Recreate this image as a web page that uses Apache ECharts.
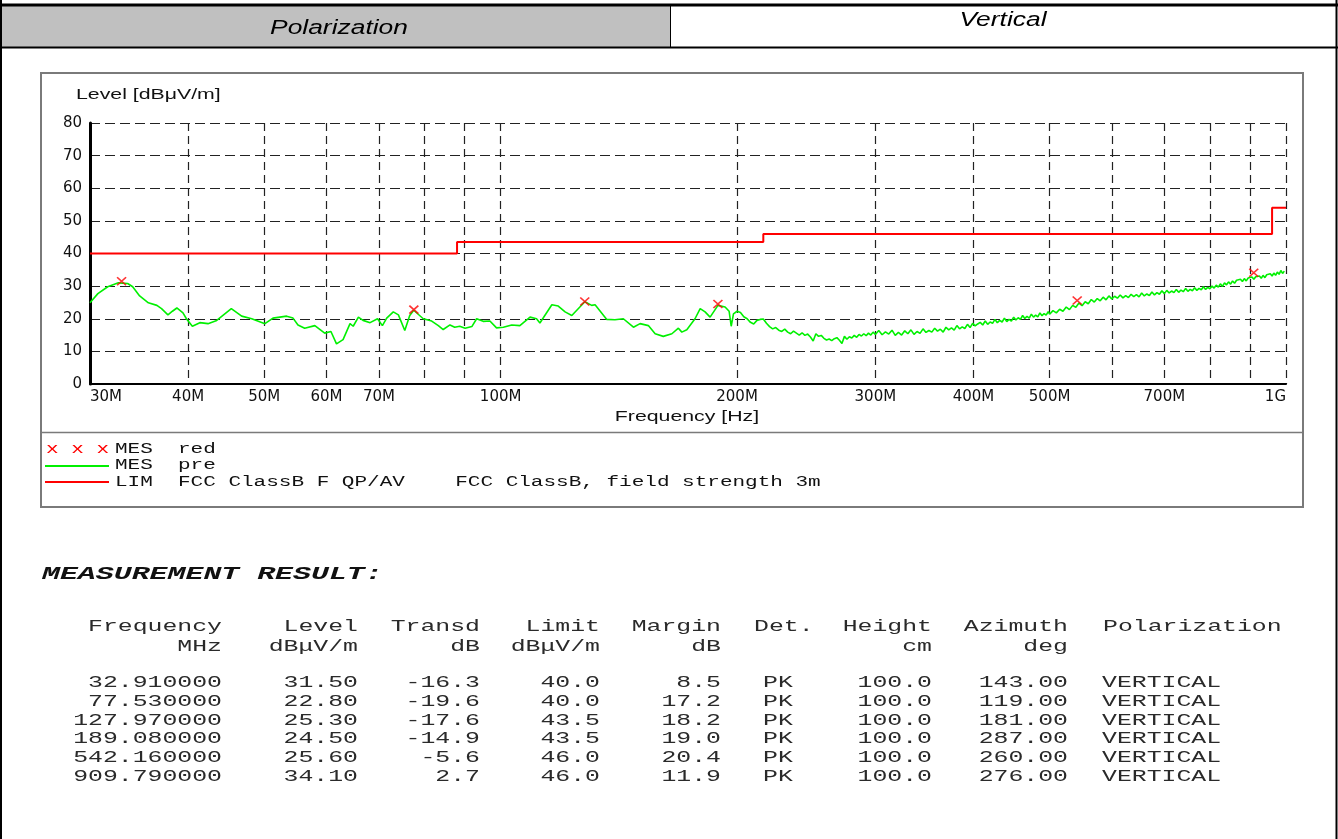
<!DOCTYPE html>
<html>
<head>
<meta charset="utf-8">
<title>Radiated emission - Vertical</title>
<script src="https://cdn.jsdelivr.net/npm/echarts@6/dist/echarts.min.js"></script>
<style>
  html, body { margin: 0; padding: 0; background: #fff; }
  #chart { width: 1338px; height: 839px; }
</style>
</head>
<body>
<div id="chart"></div>
<script>
// ---- Frequency axis (MHz) ----
const labelFreqs = [30, 40, 50, 60, 70, 100, 200, 300, 400, 500, 700, 1000];
const gridFreqs = [40, 50, 60, 70, 80, 90, 100, 200, 300, 400, 500, 600, 700, 800, 900, 1000];

// ---- FCC Class B limit, 3 m (MHz, dBuV/m) ----
const limitFreq = [30, 88, 88, 216, 216, 960, 960, 1000];
const limitLevel = [40, 40, 43.5, 43.5, 46, 46, 54, 54];

// ---- Pre-scan sweep (MHz, dBuV/m) ----
const preScanLow = [
  [30.0, 24.9], [30.7, 27.7], [31.6, 29.8], [32.6, 31.0], [33.5, 30.8], [34.0, 29.8], [34.7, 27.0],
  [35.6, 24.9], [36.5, 24.1], [37.0, 23.1], [37.7, 21.2], [38.2, 22.3], [38.7, 23.3], [39.4, 21.8],
  [39.8, 20.0], [40.5, 17.7], [41.4, 18.8], [42.4, 18.5], [43.5, 19.5], [45.4, 23.1], [46.8, 20.8],
  [48.2, 20.0], [50.1, 18.5], [51.3, 20.2], [53.4, 20.8], [54.4, 20.2], [55.2, 18.1], [56.3, 17.1],
  [58.0, 17.9], [59.7, 15.6], [60.8, 16.1], [61.8, 12.3], [63.0, 13.6], [64.3, 18.5], [64.9, 17.7],
  [65.9, 20.5], [66.8, 19.5], [68.2, 18.8], [69.7, 20.0], [70.7, 17.9], [71.6, 20.2], [73.0, 22.1],
  [74.1, 21.2], [75.5, 16.4], [76.6, 21.0], [77.5, 22.6], [79.7, 20.0], [81.7, 19.3], [83.3, 17.9],
  [84.5, 16.7], [86.2, 18.1], [87.4, 17.4], [88.7, 17.7], [90.1, 17.1], [91.9, 17.6], [93.2, 20.0],
  [95.0, 19.2], [96.9, 19.3], [98.8, 17.2], [100.8, 17.4], [103.3, 18.1], [105.8, 17.9], [109.0, 20.5],
  [111.1, 20.0], [112.2, 18.7], [116.2, 24.3], [118.4, 23.9], [120.8, 22.1], [123.2, 21.0], [128.0, 25.2],
  [130.6, 24.1], [131.9, 24.3], [136.5, 19.8], [139.8, 19.7], [143.3, 20.0], [147.6, 17.4], [150.5, 18.5],
  [154.2, 17.9], [157.3, 15.4], [161.1, 14.6], [165.2, 15.4], [168.4, 17.1], [170.1, 15.9], [172.6, 16.6],
  [176.8, 20.0], [179.5, 23.1], [182.1, 22.1], [184.8, 20.5], [189.1, 24.1], [193.1, 23.6], [195.4, 22.3],
  [196.6, 17.7], [197.9, 21.5]
];
const preScanMid = [
  [200, 22.3], [202, 21.9], [204, 20.6], [206, 20.0], [208, 18.9], [210, 18.4], [212, 19.5], [214, 19.8],
  [216, 19.9], [218, 18.6], [220, 17.6], [222, 16.9], [224, 17.3], [226, 16.5], [228, 16.1], [230, 16.8],
  [232, 15.9], [234, 15.4], [236, 16.2], [238, 15.6], [240, 15.0], [242, 15.7], [244, 14.9], [246, 15.3],
  [248, 14.4], [250, 13.2], [252, 15.4], [254, 14.6], [256, 14.9], [258, 14.0], [260, 13.5], [262, 13.8],
  [264, 13.3], [266, 13.9], [268, 14.2], [270, 13.4], [272, 12.4], [274, 14.6], [276, 13.7], [278, 14.5],
  [280, 14.1], [282, 14.9], [284, 14.3], [286, 15.2], [288, 14.7], [290, 15.4], [292, 14.8], [294, 15.6],
  [296, 15.0], [298, 15.9], [300, 15.2],
  [303, 16.4], [306, 15.1], [309, 16.0], [312, 15.3], [315, 16.5], [318, 14.9], [321, 15.8], [324, 15.0],
  [327, 16.3], [330, 15.4], [333, 16.6], [336, 15.2], [339, 16.1], [342, 15.5], [345, 16.9], [348, 15.8],
  [351, 16.4], [354, 15.9], [357, 17.1], [360, 16.2], [363, 16.8], [366, 15.9], [369, 17.4], [372, 16.6],
  [375, 17.2], [378, 16.5], [381, 17.9], [384, 16.9], [387, 17.5], [390, 17.0], [393, 18.3], [396, 17.3],
  [399, 18.6], [402, 17.8], [405, 18.4], [408, 18.9], [411, 18.1], [414, 19.3], [417, 18.3], [420, 19.0],
  [423, 18.6], [426, 19.8], [429, 18.8], [432, 19.5], [435, 19.0], [438, 20.2], [441, 19.1], [444, 19.8],
  [447, 19.3], [450, 20.5], [453, 19.6], [456, 20.3], [459, 19.8], [462, 21.0], [465, 20.1], [468, 20.7],
  [471, 20.2], [474, 21.4], [477, 20.5], [480, 21.1], [483, 20.6], [486, 21.8], [489, 20.9], [492, 21.6],
  [495, 21.1], [498, 22.2]
];
const preScanHigh = [
  [500, 21.4], [505, 22.5], [510, 21.8], [515, 22.9], [520, 22.3], [525, 23.6], [530, 22.8], [535, 24.1],
  [540, 23.5], [545, 24.8], [550, 24.0], [555, 25.2], [560, 24.6], [565, 25.9], [570, 25.1], [575, 26.2],
  [580, 25.5], [585, 26.6], [590, 25.8], [595, 27.0], [600, 26.1], [605, 26.9], [610, 26.3], [615, 27.3],
  [620, 26.4], [625, 27.1], [630, 26.5], [635, 27.5], [640, 26.8], [645, 27.4], [650, 26.7], [655, 27.9],
  [660, 27.0], [665, 27.6], [670, 27.1], [675, 28.2], [680, 27.3], [685, 28.0], [690, 27.5], [695, 28.6],
  [700, 27.7], [705, 28.7], [710, 27.9], [715, 28.5], [720, 28.0], [725, 29.0], [730, 28.1], [735, 28.8],
  [740, 28.3], [745, 29.3], [750, 28.4], [755, 29.0], [760, 28.6], [765, 29.5], [770, 28.7], [775, 29.3],
  [780, 28.9], [785, 29.8], [790, 29.0], [795, 29.6], [800, 29.2], [805, 30.0], [810, 29.4], [815, 30.3],
  [820, 29.7], [825, 30.7], [830, 29.9], [835, 31.0], [840, 30.4], [845, 31.3], [850, 30.6], [855, 31.6],
  [860, 30.9], [865, 31.8], [870, 31.2], [875, 32.1], [880, 31.4], [885, 32.3], [890, 31.6], [895, 32.5],
  [900, 31.9], [905, 32.8], [910, 32.1], [915, 32.9], [920, 32.3], [925, 33.1], [930, 32.4], [935, 33.3],
  [940, 32.6], [945, 33.5], [950, 32.9], [955, 33.8], [960, 33.1], [965, 34.0], [970, 33.3], [975, 34.3],
  [980, 33.6], [985, 34.8], [990, 33.9], [995, 34.6]
];

// ---- Final measurement results ----
const measFreq = [32.91, 77.53, 127.97, 189.08, 542.16, 909.79];
const measLevel = [31.5, 22.8, 25.3, 24.5, 25.6, 34.1];
const measTransd = [-16.3, -19.6, -17.6, -14.9, -5.6, 2.7];
const measLimit = [40.0, 40.0, 43.5, 43.5, 46.0, 46.0];
const measMargin = [8.5, 17.2, 18.2, 19.0, 20.4, 11.9];
const measDet = ['PK', 'PK', 'PK', 'PK', 'PK', 'PK'];
const measHeight = [100.0, 100.0, 100.0, 100.0, 100.0, 100.0];
const measAzimuth = [143.0, 119.0, 181.0, 287.0, 260.0, 276.0];
const measPol = ['VERTICAL', 'VERTICAL', 'VERTICAL', 'VERTICAL', 'VERTICAL', 'VERTICAL'];

// ---- Build the chart ----
const lg = Math.log10;
const preScan = preScanLow.concat(preScanMid, preScanHigh);

const SANS = '"Liberation Sans", Arial, sans-serif';
const MONO = '"Liberation Mono", "Courier New", monospace';

function txt(text, x, y, font, align, fill, sx) {
  return {
    type: 'text', x: x, y: y, scaleX: sx || 1, silent: true,
    style: { text: text, font: font, fill: fill || '#111', align: align || 'left', verticalAlign: 'middle' }
  };
}
function line(x1, y1, x2, y2, stroke, w) {
  return { type: 'line', silent: true, shape: { x1: x1, y1: y1, x2: x2, y2: y2 }, style: { stroke: stroke, lineWidth: w } };
}

const graphics = [];
// report header row
graphics.push({ type: 'rect', silent: true, shape: { x: 2, y: 6, width: 668, height: 41 }, style: { fill: '#c0c0c0' } });
graphics.push(line(0, 5, 1338, 5, '#000', 3));
graphics.push(line(0, 47.5, 1338, 47.5, '#000', 2));
graphics.push(line(670.5, 6, 670.5, 47, '#000', 1));
graphics.push(line(1, 0, 1, 839, '#000', 2));
graphics.push(line(1336.5, 0, 1336.5, 839, '#000', 2));
graphics.push(txt('Polarization', 339, 28, 'italic 20px ' + SANS, 'center', '#000', 1.32));
graphics.push(txt('Vertical', 1003, 20, 'italic 20px ' + SANS, 'center', '#000', 1.32));

// chart frame and legend box
graphics.push({ type: 'rect', silent: true, shape: { x: 41, y: 73, width: 1262, height: 434 }, style: { fill: 'none', stroke: '#7a7a7a', lineWidth: 2 } });
graphics.push(line(41, 432.5, 1303, 432.5, '#7a7a7a', 1.5));
graphics.push(txt('Level [dB\u03bcV/m]', 76, 95, '14px ' + SANS, 'left', '#111', 1.52));
graphics.push(txt('Frequency [Hz]', 687, 417, '14px ' + SANS, 'center', '#111', 1.52));

// legend entries
graphics.push(txt('x x x', 46, 449, '14px ' + MONO, 'left', '#ff0000', 1.5));
graphics.push(txt('MES  red', 115, 449, '14px ' + MONO, 'left', '#111', 1.5));
graphics.push(line(45, 466, 109, 466, '#00f000', 2));
graphics.push(txt('MES  pre', 115, 465, '14px ' + MONO, 'left', '#111', 1.5));
graphics.push(line(45, 482, 109, 482, '#ff0000', 2));
graphics.push(txt('LIM  FCC ClassB F QP/AV    FCC ClassB, field strength 3m', 115, 482, '14px ' + MONO, 'left', '#111', 1.5));

// measurement result listing
graphics.push(txt('MEASUREMENT RESULT:', 42, 574, 'italic bold 18px ' + MONO, 'left', '#111', 1.66));
const tableCols = [
  { head: 'Frequency', unit: 'MHz', x: 222, align: 'right', cell: i => measFreq[i].toFixed(6) },
  { head: 'Level', unit: 'dB\u03bcV/m', x: 358, align: 'right', cell: i => measLevel[i].toFixed(2) },
  { head: 'Transd', unit: 'dB', x: 480, align: 'right', cell: i => measTransd[i].toFixed(1) },
  { head: 'Limit', unit: 'dB\u03bcV/m', x: 600, align: 'right', cell: i => measLimit[i].toFixed(1) },
  { head: 'Margin', unit: 'dB', x: 721, align: 'right', cell: i => measMargin[i].toFixed(1) },
  { head: 'Det.', unit: '', x: 754, align: 'left', cellX: 763, cell: i => measDet[i] },
  { head: 'Height', unit: 'cm', x: 932, align: 'right', cell: i => measHeight[i].toFixed(1) },
  { head: 'Azimuth', unit: 'deg', x: 1068, align: 'right', cell: i => measAzimuth[i].toFixed(2) },
  { head: 'Polarization', unit: '', x: 1103, align: 'left', cellX: 1102, cell: i => measPol[i] }
];
const TFONT = '16px ' + MONO, TCOL = '#2a2a2a', TSX = 1.55;
tableCols.forEach(c => {
  graphics.push(txt(c.head, c.x, 627, TFONT, c.align, TCOL, TSX));
  if (c.unit) graphics.push(txt(c.unit, c.x, 647, TFONT, c.align, TCOL, TSX));
  measFreq.forEach((f, i) => {
    graphics.push(txt(c.cell(i), c.cellX || c.x, 683 + i * 18.7, TFONT, c.align, TCOL, TSX));
  });
});

const chart = echarts.init(document.getElementById('chart'), null, { renderer: 'canvas' });
chart.setOption({
  animation: false,
  backgroundColor: '#fff',
  grid: { left: 90, top: 123, width: 1196, height: 261 },
  xAxis: {
    type: 'value',
    min: lg(30), max: lg(1000),
    axisLine: { show: true, onZero: false, lineStyle: { color: '#000', width: 2 } },
    axisTick: { show: false, customValues: gridFreqs.map(lg) },
    axisLabel: {
      customValues: labelFreqs.map(lg),
      showMinLabel: true, showMaxLabel: true,
      alignMinLabel: 'left', alignMaxLabel: 'right',
      fontFamily: '"DejaVu Sans", sans-serif', fontSize: 15, color: '#111', margin: 6,
      formatter: v => {
        const f = Math.pow(10, v);
        return f >= 999 ? '1G' : Math.round(f) + 'M';
      }
    },
    splitLine: { show: true, lineStyle: { type: [8, 5], color: '#222', width: 1.2 } }
  },
  yAxis: {
    type: 'value', min: 0, max: 80, interval: 10,
    axisLine: { show: true, lineStyle: { color: '#000', width: 3 } },
    axisTick: { show: false },
    axisLabel: { fontFamily: '"DejaVu Sans", sans-serif', fontSize: 15, color: '#111', margin: 8 },
    splitLine: { show: true, lineStyle: { type: [10, 5], color: '#222', width: 1.2 } }
  },
  graphic: { elements: graphics },
  series: [
    {
      name: 'LIM', type: 'line', showSymbol: false, z: 3,
      data: limitFreq.map((f, i) => [lg(f), limitLevel[i]]),
      lineStyle: { color: '#ff0000', width: 2 }
    },
    {
      name: 'MES pre', type: 'line', showSymbol: false, z: 4,
      data: preScan.map(p => [lg(p[0]), p[1]]),
      lineStyle: { color: '#00f000', width: 1.6 }
    },
    {
      name: 'MES red', type: 'scatter', z: 5,
      symbol: 'path://M0,0L10,10M10,0L0,10',
      symbolSize: [9, 8],
      itemStyle: { color: '#ff0000', borderColor: '#ff0000', borderWidth: 1.6 },
      data: measFreq.map((f, i) => [lg(f), measLevel[i]])
    }
  ]
});
</script>
</body>
</html>
